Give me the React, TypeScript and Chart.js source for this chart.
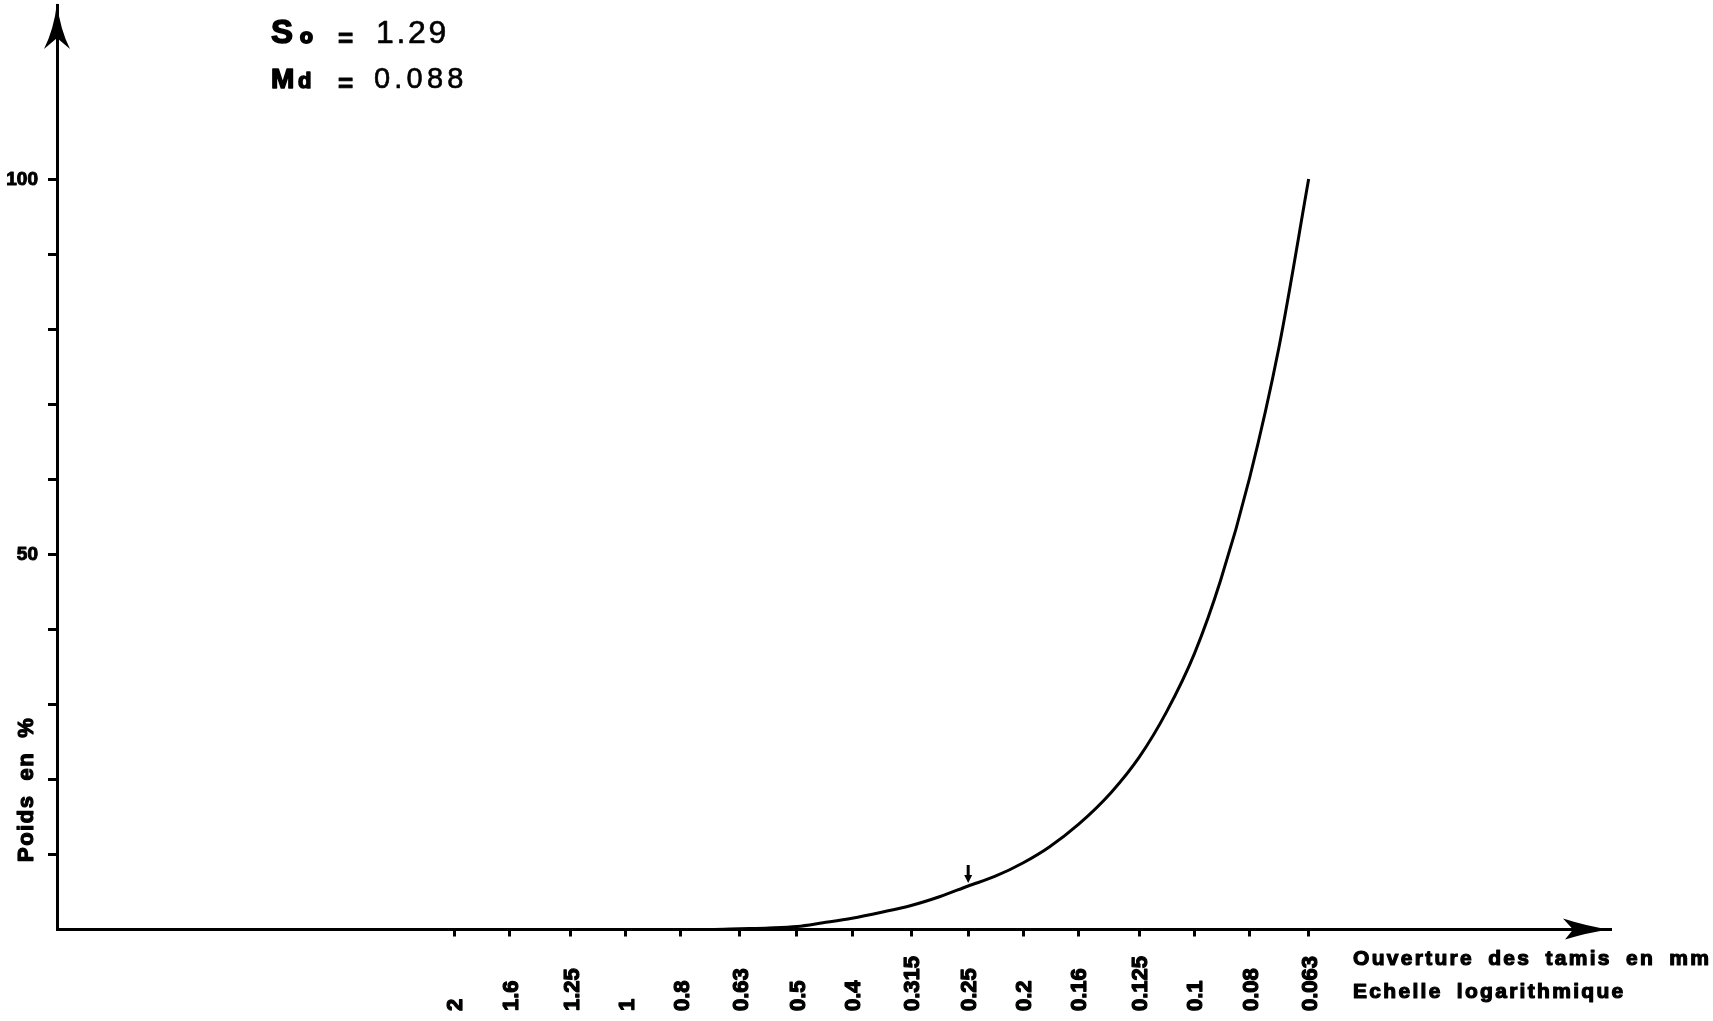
import { useEffect, useRef } from "react";
import { Chart, registerables } from "chart.js";

Chart.register(...registerables);

// Sieve openings (mm) labelled along the logarithmic x axis
const SIEVE_TICKS = [2, 1.6, 1.25, 1, 0.8, 0.63, 0.5, 0.4, 0.315, 0.25, 0.2, 0.16, 0.125, 0.1, 0.08, 0.063];
const SIEVE_LABELS = ["2", "1.6", "1.25", "1", "0.8", "0.63", "0.5", "0.4", "0.315", "0.25", "0.2", "0.16", "0.125", "0.1", "0.08", "0.063"];

// Cumulative weight curve (R20 sieve series, mm -> %)
const CURVE_SIZES = [
  0.8, 0.71, 0.63, 0.56, 0.5, 0.45, 0.4, 0.355, 0.315, 0.28, 0.25, 0.224,
  0.2, 0.18, 0.16, 0.14, 0.125, 0.112, 0.1, 0.09, 0.08, 0.071, 0.063,
];
const CURVE_PERCENT = [
  0, 0, 0.1, 0.2, 0.4, 0.9, 1.5, 2.3, 3.2, 4.4, 5.8, 7.1,
  8.9, 11.0, 14.0, 18.3, 23.0, 29.0, 36.8, 46.5, 60.2, 77.7, 100,
];

// Weight axis
const Y_TICKS = [10, 20, 30, 40, 50, 60, 70, 80, 90, 100];
const Y_LABELED = [50, 100];

// Sieve flagged with a small arrow on the curve
const MARKED_SIZE = 0.25;

// Statistics shown in the corner
const SO_VALUE = "1.29";
const MD_VALUE = "0.088";

const X_TITLE = ["Ouverture des tamis en mm", "Echelle logarithmique"];
const Y_TITLE = "Poids en %";

const FONT = "'Liberation Sans', Arial, sans-serif";

// heavy text: fill plus a thin stroke to get the inked look of the print
function heavyText(ctx: CanvasRenderingContext2D, text: string, x: number, y: number, w = 1.2) {
  ctx.lineWidth = w;
  ctx.lineJoin = "round";
  ctx.fillText(text, x, y);
  ctx.strokeText(text, x, y);
}

const decorations = {
  id: "granulo-decorations",
  afterDraw(chart: any) {
    const ctx = chart.ctx as CanvasRenderingContext2D;
    const xs = chart.scales.x;
    const ys = chart.scales.y;
    const area = chart.chartArea;
    ctx.save();
    ctx.fillStyle = "#000";
    ctx.strokeStyle = "#000";

    // arrowhead on top of the weight axis
    const ax = area.left;
    const at = area.top;
    ctx.beginPath();
    ctx.moveTo(ax, at - 2);
    ctx.quadraticCurveTo(ax - 3, at + 24, ax - 13, at + 44);
    ctx.lineTo(ax, at + 33);
    ctx.lineTo(ax + 13, at + 44);
    ctx.quadraticCurveTo(ax + 3, at + 24, ax, at - 2);
    ctx.closePath();
    ctx.fill();

    // arrowhead at the end of the sieve axis
    const bx = area.right;
    const by = area.bottom;
    ctx.beginPath();
    ctx.moveTo(bx, by);
    ctx.quadraticCurveTo(bx - 22, by - 3, bx - 47, by - 11);
    ctx.lineTo(bx - 37, by);
    ctx.lineTo(bx - 45, by + 10);
    ctx.quadraticCurveTo(bx - 22, by + 3, bx, by);
    ctx.closePath();
    ctx.fill();

    // rotated sieve labels, bottom aligned
    const fs = 22;
    ctx.font = `bold ${fs}px ${FONT}`;
    ctx.textAlign = "left";
    ctx.textBaseline = "alphabetic";
    SIEVE_TICKS.forEach((v, i) => {
      const px = xs.getPixelForValue(v);
      ctx.save();
      ctx.translate(px + fs * 0.36, 1011);
      ctx.rotate(-Math.PI / 2);
      heavyText(ctx, SIEVE_LABELS[i], 0, 0);
      ctx.restore();
    });

    // weight axis labels
    ctx.save();
    ctx.font = `bold 19px ${FONT}`;
    ctx.textAlign = "right";
    ctx.textBaseline = "middle";
    Y_LABELED.forEach((v) => {
      heavyText(ctx, String(v), area.left - 19, ys.getPixelForValue(v) + 0.5, 1);
    });
    ctx.restore();

    // weight axis title
    ctx.save();
    ctx.font = `bold 22px ${FONT}`;
    (ctx as any).letterSpacing = "1.5px";
    (ctx as any).wordSpacing = "6.5px";
    ctx.translate(33, 862);
    ctx.rotate(-Math.PI / 2);
    heavyText(ctx, Y_TITLE, 0, 0);
    ctx.restore();

    // sieve axis titles
    ctx.save();
    ctx.font = `bold 21px ${FONT}`;
    (ctx as any).letterSpacing = "2.3px";
    (ctx as any).wordSpacing = "6px";
    heavyText(ctx, X_TITLE[0], 1353, 965);
    heavyText(ctx, X_TITLE[1], 1353, 998);
    ctx.restore();

    // small arrow pointing at the flagged sieve on the curve
    const mi = CURVE_SIZES.indexOf(MARKED_SIZE);
    const mx = xs.getPixelForValue(MARKED_SIZE);
    const my = ys.getPixelForValue(CURVE_PERCENT[mi]) - 3;
    ctx.lineWidth = 3;
    ctx.beginPath();
    ctx.moveTo(mx, my - 18);
    ctx.lineTo(mx, my - 6);
    ctx.stroke();
    ctx.beginPath();
    ctx.moveTo(mx - 4, my - 8);
    ctx.lineTo(mx + 4, my - 8);
    ctx.lineTo(mx, my);
    ctx.closePath();
    ctx.fill();

    // So and Md statistics
    ctx.save();
    ctx.font = `bold 33px ${FONT}`;
    heavyText(ctx, "S", 271, 43, 1.5);
    ctx.font = `bold 21px ${FONT}`;
    heavyText(ctx, "o", 300, 43, 2);
    ctx.font = `bold 26px ${FONT}`;
    heavyText(ctx, "=", 338, 47, 1);
    ctx.font = `32px ${FONT}`;
    (ctx as any).letterSpacing = "2.7px";
    heavyText(ctx, SO_VALUE, 376, 43, 0.6);

    (ctx as any).letterSpacing = "0px";
    ctx.font = `bold 28px ${FONT}`;
    heavyText(ctx, "M", 271, 88, 1.5);
    ctx.font = `bold 22px ${FONT}`;
    heavyText(ctx, "d", 298, 88, 1.5);
    ctx.font = `bold 26px ${FONT}`;
    heavyText(ctx, "=", 338, 92, 1);
    ctx.font = `29px ${FONT}`;
    (ctx as any).letterSpacing = "4.2px";
    heavyText(ctx, MD_VALUE, 374, 88, 0.6);
    ctx.restore();

    ctx.restore();
  },
};

export default function App() {
  const canvasRef = useRef<HTMLCanvasElement | null>(null);

  useEffect(() => {
    const canvas = canvasRef.current;
    if (!canvas) return;
    const points = CURVE_SIZES.map((s, i) => ({ x: s, y: CURVE_PERCENT[i] }));
    const chart = new Chart(canvas, {
      type: "line",
      data: {
        datasets: [
          {
            data: points,
            borderColor: "#000",
            borderWidth: 3,
            pointRadius: 0,
            cubicInterpolationMode: "monotone",
            fill: false,
            clip: false as any,
          },
        ],
      },
      options: {
        responsive: false,
        animation: false,
        events: [],
        layout: { padding: { left: 0, top: 5, right: 103, bottom: 0 } },
        plugins: { legend: { display: false }, tooltip: { enabled: false } },
        scales: {
          x: {
            type: "logarithmic",
            reverse: true,
            min: 0.0186,
            max: 10,
            afterBuildTicks: (scale: any) => {
              scale.ticks = SIEVE_TICKS.map((v) => ({ value: v }));
            },
            afterFit: (scale: any) => {
              scale.height = 91.5;
              scale.paddingLeft = 0;
              scale.paddingRight = 0;
            },
            ticks: { display: false, autoSkip: false },
            grid: {
              drawOnChartArea: false,
              drawTicks: true,
              tickLength: 7,
              lineWidth: 3,
              color: "#000",
            },
            border: { display: true, color: "#000", width: 3 },
          },
          y: {
            type: "linear",
            min: 0,
            max: 123.2,
            afterBuildTicks: (scale: any) => {
              scale.ticks = Y_TICKS.map((v) => ({ value: v }));
            },
            afterFit: (scale: any) => {
              scale.width = 57;
              scale.paddingTop = 0;
              scale.paddingBottom = 0;
            },
            ticks: { display: false, autoSkip: false },
            grid: {
              drawOnChartArea: false,
              drawTicks: true,
              tickLength: 9,
              lineWidth: 3,
              color: "#000",
            },
            border: { display: true, color: "#000", width: 3 },
          },
        },
      },
      plugins: [decorations],
    });
    return () => chart.destroy();
  }, []);

  return (
    <div style={{ position: "fixed", left: 0, top: 0, width: 1713, height: 1021, background: "#fff" }}>
      <canvas ref={canvasRef} width={1713} height={1021} style={{ display: "block" }} />
    </div>
  );
}
